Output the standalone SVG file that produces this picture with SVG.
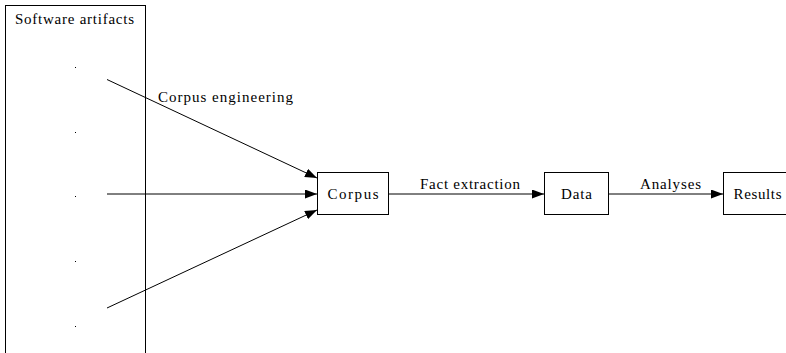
<svg xmlns="http://www.w3.org/2000/svg" width="786" height="353" viewBox="0 0 786 353">
  <style>
    text { font-family: "Liberation Serif", "DejaVu Serif", "Noto Serif", serif; font-size: 15px; fill: #000; }
    .box { fill: #fff; stroke: #000; stroke-width: 1; }
    .edge { fill: none; stroke: #000; stroke-width: 1; }
    .dot { fill: #000; }
  </style>
  <defs>
    <marker id="arrow" markerWidth="12" markerHeight="9" refX="12" refY="4.5" orient="auto" markerUnits="userSpaceOnUse">
      <polygon points="0,0 12,4.5 0,9" fill="#000"/>
    </marker>
  </defs>
  <rect width="786" height="353" fill="#fff"/>

  <!-- cluster of source artifacts -->
  <g id="artifacts">
    <rect class="box" x="5.5" y="5.5" width="140" height="360"/>
    <text x="15" y="24" textLength="119" lengthAdjust="spacing">Software artifacts</text>
    <rect class="dot" x="75" y="67" width="1" height="1"/>
    <rect class="dot" x="75" y="132" width="1" height="1"/>
    <rect class="dot" x="75" y="196" width="1" height="1"/>
    <rect class="dot" x="75" y="261" width="1" height="1"/>
    <rect class="dot" x="75" y="326" width="1" height="1"/>
  </g>

  <g id="edges">
    <line class="edge" x1="107" y1="79.5" x2="317" y2="178" marker-end="url(#arrow)"/>
    <line class="edge" x1="107" y1="194" x2="317" y2="194" marker-end="url(#arrow)"/>
    <line class="edge" x1="107" y1="308" x2="317" y2="210" marker-end="url(#arrow)"/>
    <line class="edge" x1="389" y1="194" x2="544" y2="194" marker-end="url(#arrow)"/>
    <line class="edge" x1="609" y1="194" x2="723" y2="194" marker-end="url(#arrow)"/>
    <text x="158" y="102" textLength="135" lengthAdjust="spacing">Corpus engineering</text>
    <text x="420" y="188.5" textLength="100" lengthAdjust="spacing">Fact extraction</text>
    <text x="640" y="188.5" textLength="61" lengthAdjust="spacing">Analyses</text>
  </g>

  <g id="corpus">
    <rect class="box" x="317.5" y="172.5" width="71" height="42"/>
    <text x="327.5" y="198.5" textLength="51" lengthAdjust="spacing">Corpus</text>
  </g>

  <g id="data">
    <rect class="box" x="544.5" y="172.5" width="64" height="42"/>
    <text x="561" y="198.5" textLength="31" lengthAdjust="spacing">Data</text>
  </g>

  <g id="results">
    <rect class="box" x="723.5" y="172.5" width="70" height="42"/>
    <text x="733.5" y="198.5" textLength="48" lengthAdjust="spacing">Results</text>
  </g>
</svg>
